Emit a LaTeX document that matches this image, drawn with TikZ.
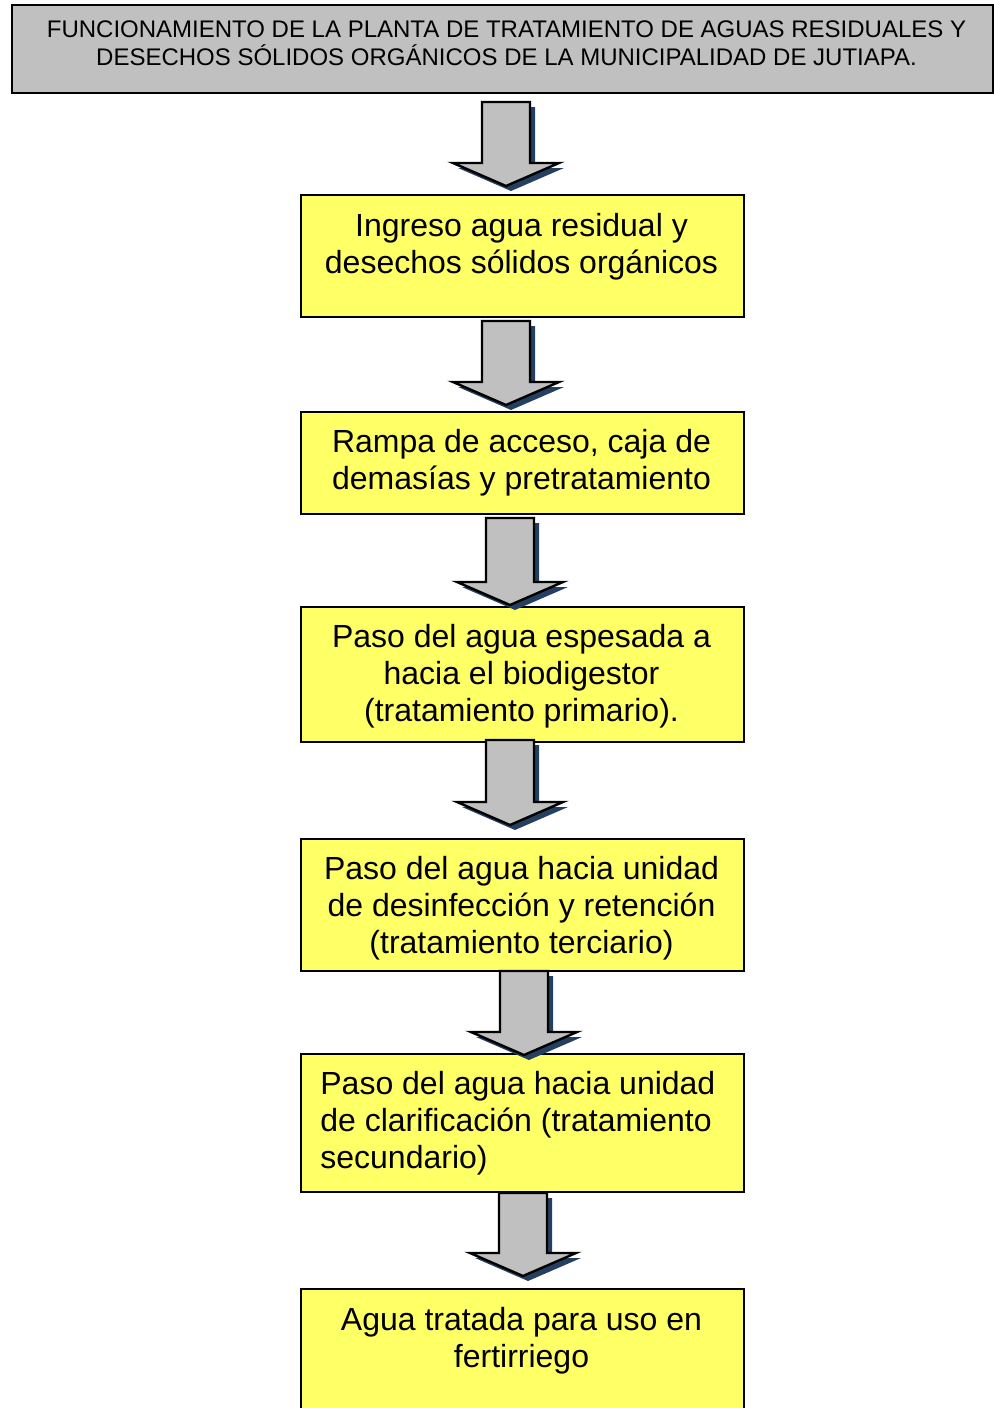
\documentclass[tikz,border=0pt]{standalone}
\usepackage{fontspec}
\setmainfont{Liberation Sans}

\definecolor{amarillo}{HTML}{FFFF66}
\definecolor{gris}{HTML}{C0C0C0}
\definecolor{sombra}{HTML}{243F60}

\tikzset{
 caja/.style={draw=black, line width=0.9pt, fill=amarillo, anchor=north west, inner sep=0pt, minimum width=221.5pt},
 texto/.style={font=\fontsize{16}{18.5}\selectfont, align=center, anchor=base, inner sep=0pt},
 flecha/.style={draw=black, line width=1.2pt, fill=gris, line join=miter},
}

% flecha de bloque: centro x, y superior, y punta
\newcommand{\flecha}[3]{
 \fill[sombra, xshift=2.5pt, yshift=-2.5pt] (#1-24,#2) -- (#1+24,#2) -- (#1+24,#3-23) -- (#1+53,#3-23) -- (#1,#3) -- (#1-53,#3-23) -- (#1-24,#3-23) -- cycle;
 \filldraw[flecha] (#1-24,#2) -- (#1+24,#2) -- (#1+24,#3-23) -- (#1+53,#3-23) -- (#1,#3) -- (#1-53,#3-23) -- (#1-24,#3-23) -- cycle;
}

\begin{document}
\begin{tikzpicture}[x=0.5pt, y=-0.5pt]
 \useasboundingbox (0,0) rectangle (994,1408);

 % titulo
 \node[caja, fill=gris, minimum width=490.5pt, minimum height=44pt] (titulo) at (11,4) {};
 \node[texto, font=\fontsize{12}{14}\selectfont] (tit) at (506.5,65)
  {FUNCIONAMIENTO DE LA PLANTA DE TRATAMIENTO DE AGUAS RESIDUALES Y\\
   DESECHOS SÓLIDOS ORGÁNICOS DE LA MUNICIPALIDAD DE JUTIAPA.};

 % cajas del proceso
 \node[caja, minimum height=61pt] (b1) at (300,194) {};
 \node[caja, minimum height=51pt] (b2) at (300,411) {};
 \node[caja, minimum height=67.5pt] (b3) at (300,606) {};
 \node[caja, minimum height=66pt] (b4) at (300,838) {};
 \node[caja, minimum height=69pt] (b5) at (300,1053) {};
 \node[caja, minimum height=70pt] (b6) at (300,1288) {};

 % el ancla base queda en la ultima linea
 \node[texto] (t1) at (521.5,273) {Ingreso agua residual y\\ desechos sólidos orgánicos};
 \node[texto] (t2) at (521.5,489) {Rampa de acceso, caja de\\ demasías y pretratamiento};
 \node[texto] (t3) at (521.5,721) {Paso del agua espesada a\\ hacia el biodigestor\\ (tratamiento primario).};
 \node[texto] (t4) at (521.5,953) {Paso del agua hacia unidad\\ de desinfección y retención\\ (tratamiento terciario)};
 \node[texto, align=left, anchor=base west] (t5) at (320,1168) {Paso del agua hacia unidad\\ de clarificación (tratamiento\\ secundario)};
 \node[texto] (t6) at (521.5,1367) {Agua tratada para uso en\\ fertirriego};

 % flechas
 \flecha{506}{102}{186}
 \flecha{506}{321}{405}
 \flecha{510}{518}{605}
 \flecha{510}{740}{825}
 \flecha{524}{971}{1055}
 \flecha{523}{1193}{1276}
\end{tikzpicture}
\end{document}
